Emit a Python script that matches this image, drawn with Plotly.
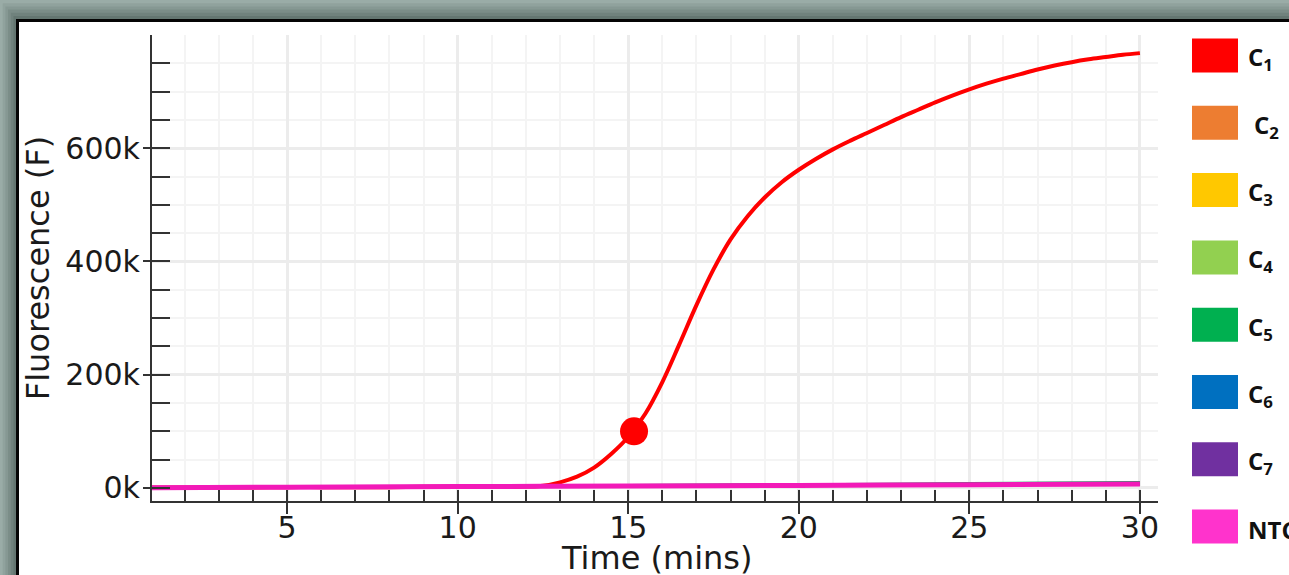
import plotly.graph_objects as go

# ---------------- data ----------------
time_c1 = [1, 2, 3, 4, 5, 6, 7, 8, 9, 10, 11, 12, 12.5, 13, 13.5, 14, 14.5, 15, 15.5,
           16, 16.5, 17, 17.5, 18, 18.5, 19, 19.5, 20, 20.5, 21, 21.5, 22, 22.5, 23,
           23.5, 24, 24.5, 25, 25.5, 26, 26.5, 27, 27.5, 28, 28.5, 29, 29.5, 30]
c1_k = [1, 1, 1, 1, 1.5, 1.5, 1.5, 1.5, 2, 2, 2, 2.5, 4, 10, 20, 36, 60, 90, 131,
        187, 254, 323, 386, 439, 480, 513, 540, 562, 581, 598, 613, 627, 641, 655,
        668, 681, 693, 704, 714, 723, 731, 739, 746, 752, 757, 761, 765, 768]

base_time = [1, 5, 10, 15, 20, 25, 30]
c2_k = [0.3, 1.2, 2.2, 3.0, 4.0, 5.0, 6.0]
c3_k = [0.6, 1.4, 2.4, 3.4, 4.4, 5.4, 6.6]
c4_k = [0.4, 1.3, 2.6, 3.8, 5.0, 6.2, 7.6]
c5_k = [1.0, 2.2, 3.6, 5.2, 6.8, 8.6, 10.6]
c6_k = [0.8, 1.9, 3.2, 4.6, 6.0, 7.6, 9.4]
c7_k = [0.2, 1.0, 2.0, 2.8, 3.8, 4.8, 5.8]
ntc_k = [0.5, 1.5, 2.5, 3.5, 4.5, 5.8, 7.0]

ct_time = [15.17]
ct_value_k = [100]

legend_labels = ["C<sub>1</sub>", "C<sub>2</sub>", "C<sub>3</sub>", "C<sub>4</sub>",
                 "C<sub>5</sub>", "C<sub>6</sub>", "C<sub>7</sub>", "NTC"]
legend_colors = ["#ff0000", "#ed7d31", "#ffc800", "#92d050",
                 "#00b050", "#0070c0", "#7030a0", "#ff33cc"]

x_major = [5, 10, 15, 20, 25, 30]
x_minor = list(range(2, 31))
y_major = [0, 200000, 400000, 600000]
y_major_text = ["0k", "200k", "400k", "600k"]
y_minor = [i * 50000 for i in range(0, 17)]

# ---------------- geometry ----------------
W, H = 1289, 575
PL, PR, PT, PB = 152, 1158, 35, 501
XR = [1.04, 30.53]
YR = [-23000, 800000]


def xp(px):
    return (px - PL) / (PR - PL)


def yp(py):
    return (PB - py) / (PB - PT)


fig = go.Figure()

k = 1000.0
series = [("C2", c2_k, "#ed7d31"), ("C3", c3_k, "#ffc000"), ("C4", c4_k, "#92d050"),
          ("C6", c6_k, "#0070c0"), ("C7", c7_k, "#7030a0"), ("C5", c5_k, "#00b050")]
for name, vals, col in series:
    fig.add_trace(go.Scatter(x=base_time, y=[v * k for v in vals], mode="lines",
                             line=dict(color=col, width=2, shape="spline"),
                             name=name, showlegend=False))

fig.add_trace(go.Scatter(x=time_c1, y=[v * k for v in c1_k], mode="lines",
                         line=dict(color="#ff0000", width=4, shape="spline"),
                         name="C1", showlegend=False))

fig.add_trace(go.Scatter(x=base_time, y=[v * k for v in ntc_k], mode="lines",
                         line=dict(color="#f21ab8", width=5, shape="spline"),
                         name="NTC", showlegend=False))

# Ct marker on the overlay axes (identical ranges) so those axes get drawn
fig.add_trace(go.Scatter(x=ct_time, y=[v * k for v in ct_value_k], mode="markers",
                         marker=dict(color="#ff0000", size=28),
                         name="Ct", showlegend=False, xaxis="x2", yaxis="y2"))

# ---------------- frame ----------------
shapes = []
band_cols = ["#9aaca7", "#90a29d", "#869893", "#7b8d88", "#70827d", "#647671"]
for i, c in enumerate(band_cols):
    x0 = i * 2.7
    y0 = i * 3.2
    shapes.append(dict(type="rect", xref="paper", yref="paper", layer="below",
                       x0=xp(x0), x1=xp(1500), y0=yp(700), y1=yp(y0),
                       fillcolor=c, line=dict(width=0)))
shapes.append(dict(type="rect", xref="paper", yref="paper", layer="below",
                   x0=xp(16), x1=xp(1500), y0=yp(700), y1=yp(19),
                   fillcolor="#050505", line=dict(width=0)))
shapes.append(dict(type="rect", xref="paper", yref="paper", layer="below",
                   x0=xp(19), x1=xp(1500), y0=yp(700), y1=yp(22),
                   fillcolor="#ffffff", line=dict(width=0)))

# ---------------- legend ----------------
annotations = []
for i, (lab, col) in enumerate(zip(legend_labels, legend_colors)):
    cy = 55.5 + 67.3 * i
    shapes.append(dict(type="rect", xref="paper", yref="paper", layer="above",
                       x0=xp(1192), x1=xp(1238), y0=yp(cy + 17), y1=yp(cy - 17),
                       fillcolor=col, line=dict(width=0)))
    lx = 1252 if i == 1 else 1246
    annotations.append(dict(xref="paper", yref="paper", x=xp(lx), y=yp(cy + 3),
                            xanchor="left", yanchor="middle", showarrow=False,
                            text="<b>" + lab + "</b>",
                            font=dict(family="Open Sans", size=24, color="#111111")))

tickfont = dict(family="DejaVu Sans", size=30, color="#1a1a1a")
titlefont = dict(family="DejaVu Sans", size=32, color="#1a1a1a")

# x-axis title placed as an annotation for exact vertical position
annotations.append(dict(xref="paper", yref="paper", x=xp(656), y=yp(558),
                        xanchor="center", yanchor="middle", showarrow=False,
                        text="Time (mins)", font=titlefont))

fig.update_layout(
    width=W, height=H,
    margin=dict(l=PL, r=W - PR, t=PT, b=H - PB, pad=0, autoexpand=False),
    paper_bgcolor="#8fa19c",
    plot_bgcolor="#ffffff",
    showlegend=False,
    shapes=shapes,
    annotations=annotations,
    xaxis=dict(range=XR, tickmode="array", tickvals=x_major, ticks="outside",
               ticklen=11, tickwidth=2, tickcolor="#333333", automargin=False,
               ticklabelstandoff=-12,
               showline=True, linecolor="#333333", linewidth=2,
               showgrid=True, gridcolor="#ececec", gridwidth=3, zeroline=False,
               tickfont=tickfont,
               minor=dict(tickmode="array", tickvals=x_minor, showgrid=True,
                          gridcolor="#f4f4f4", gridwidth=2, ticks="")),
    yaxis=dict(range=YR, tickmode="array", tickvals=y_major, ticktext=y_major_text,
               ticks="outside", ticklen=7, tickwidth=2, tickcolor="#333333",
               automargin=False, ticklabelstandoff=-3,
               showline=True, linecolor="#333333", linewidth=2,
               showgrid=True, gridcolor="#ececec", gridwidth=3, zeroline=False,
               tickfont=tickfont,
               title=dict(text="Fluorescence (F)", font=titlefont, standoff=6),
               minor=dict(tickmode="array", tickvals=y_minor, showgrid=True,
                          gridcolor="#f4f4f4", gridwidth=2, ticks="")),
    xaxis2=dict(overlaying="x", anchor="y2", side="bottom", range=XR,
                tickmode="array", tickvals=x_minor, ticks="inside", ticklen=11,
                tickwidth=2, tickcolor="#333333", showticklabels=False,
                automargin=False,
                showgrid=False, zeroline=False, showline=False),
    yaxis2=dict(overlaying="y", anchor="x2", side="left", range=YR,
                tickmode="array", tickvals=y_minor, ticks="inside", ticklen=18,
                tickwidth=2, tickcolor="#333333", showticklabels=False,
                automargin=False,
                showgrid=False, zeroline=False, showline=False),
)

fig.write_html("out.html",
               config={"displayModeBar": False},
               post_script="document.body.style.margin='0px';"
                           "document.body.style.overflow='hidden';")
